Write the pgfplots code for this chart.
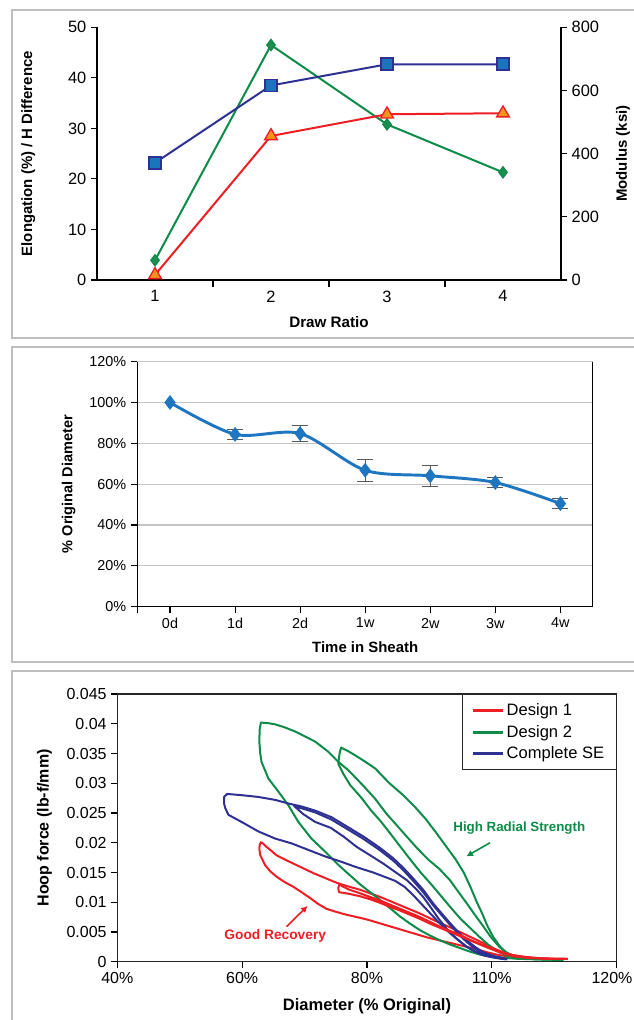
\documentclass[border=0pt]{standalone}
\usepackage{fontspec}
\setmainfont{Liberation Sans}
\usepackage{pgfplots}
\pgfplotsset{compat=1.18}
\usetikzlibrary{arrows.meta}

\definecolor{navyline}{RGB}{46,49,146}
\definecolor{sqfill}{RGB}{27,117,188}
\definecolor{grline}{RGB}{12,140,72}
\definecolor{grfill}{RGB}{30,140,80}
\definecolor{rdline}{RGB}{237,30,36}
\definecolor{trifill}{RGB}{247,148,29}
\definecolor{ptblue}{RGB}{30,118,192}
\definecolor{framec}{RGB}{190,190,190}
\definecolor{gridc}{RGB}{195,195,200}

\pgfplotsset{/pgf/number format/assume math mode=true}

\begin{document}
\begin{tikzpicture}
\useasboundingbox (0,0) rectangle (475.5pt,-765pt);

% panel frames
\begin{scope}
  \clip (0,0) rectangle (475.5pt,-765pt);
  \draw[framec, line width=1.1pt] (9pt,-7.5pt) rectangle (490pt,-253.5pt);
  \draw[framec, line width=1.1pt] (9pt,-260.3pt) rectangle (490pt,-496.5pt);
  \draw[framec, line width=1.1pt] (9pt,-503.3pt) rectangle (490pt,-790pt);
\end{scope}

% ---- Panel 1: draw ratio -------------------------------------------
\begin{axis}[
  at={(72.75pt,-210pt)}, anchor=south west,
  scale only axis, width=348pt, height=189.5pt,
  xmin=0.5, xmax=4.5, ymin=0, ymax=50,
  axis x line*=bottom, axis y line*=left,
  axis line style={line width=0.8pt},
  xtick={1,2,3,4}, minor xtick={1.5,2.5,3.5},
  ytick={0,10,...,50},
  tick align=outside, major tick length=4.5pt, minor tick length=5pt,
  major x tick style={draw=none},
  tick style={black, line width=0.8pt},
  tick label style={font=\fontsize{12.3}{14}\selectfont},
  every axis y label/.style={at={(rel axis cs:0,0.5)}, xshift=-51.5pt, rotate=90, anchor=center,
    font=\bfseries\fontsize{11.2}{13}\selectfont},
  every axis x label/.style={at={(rel axis cs:0.5,0)}, yshift=-31.3pt, anchor=center,
    font=\bfseries\fontsize{11.4}{13}\selectfont},
  ylabel={Elongation (\%) / H Difference},
  xlabel={Draw Ratio},
]
  \addplot[grline, line width=1.5pt, mark=diamond*, mark size=4.3pt,
    mark options={fill=grfill, draw=grline, line width=0.8pt}]
    coordinates {(1,3.9) (2,46.5) (3,30.8) (4,21.3)};
  \addplot[rdline, line width=1.5pt, mark=triangle*, mark size=5.5pt,
    mark options={fill=trifill, draw=rdline, line width=1pt}]
    coordinates {(1,1.0) (2,28.5) (3,32.8) (4,33.0)};
\end{axis}

\begin{axis}[
  at={(72.75pt,-210pt)}, anchor=south west,
  scale only axis, width=348pt, height=189.5pt,
  xmin=0.5, xmax=4.5, ymin=0, ymax=800,
  axis x line=none, axis y line*=right,
  axis line style={line width=0.8pt},
  ytick={0,200,...,800},
  tick align=outside, major tick length=4.5pt,
  tick style={black, line width=0.8pt},
  tick label style={font=\fontsize{12.3}{14}\selectfont},
  every axis y label/.style={at={(rel axis cs:1,0.5)}, xshift=46.5pt, rotate=90, anchor=center,
    font=\bfseries\fontsize{11.2}{13}\selectfont},
  ylabel={Modulus (ksi)},
]
  \addplot[navyline, line width=1.5pt, mark=square*, mark size=4.5pt,
    mark options={fill=sqfill, draw=navyline, line width=1.2pt}]
    coordinates {(1,371) (2,616) (3,683) (4,683)};
\end{axis}

% ---- Panel 2: time in sheath ---------------------------------------
\begin{axis}[
  at={(103.1pt,-455pt)}, anchor=south west,
  scale only axis, width=341.6pt, height=183.75pt,
  xmin=-0.5, xmax=6.5, ymin=0, ymax=120,
  axis x line*=bottom, axis y line*=left,
  axis line style={line width=0.9pt},
  xtick={0,...,6}, xticklabels={0d,1d,2d,1w,2w,3w,4w},
  extra x ticks={-0.5}, extra x tick labels={},
  ytick={0,20,...,120},
  yticklabels={0\%,20\%,40\%,60\%,80\%,100\%,120\%},
  ymajorgrids, grid style={gridc, line width=0.8pt},
  tick align=outside, major tick length=5pt,
  tick style={black, line width=0.8pt},
  tick label style={font=\fontsize{10.8}{12}\selectfont},
  every axis y label/.style={at={(rel axis cs:0,0.5)}, xshift=-51.6pt, rotate=90, anchor=center,
    font=\bfseries\fontsize{10.9}{13}\selectfont},
  every axis x label/.style={at={(rel axis cs:0.5,0)}, yshift=-30pt, anchor=center,
    font=\bfseries\fontsize{11.2}{13}\selectfont},
  ylabel={\% Original Diameter},
  xlabel={Time in Sheath},
]
  \draw[black, line width=0.9pt] (rel axis cs:1,0) -- (rel axis cs:1,1);
  \addplot[only marks, mark=none,
    error bars/.cd, y dir=both, y explicit,
    error bar style={draw=black!65, line width=0.7pt},
    error mark options={rotate=90, mark size=6pt, draw=black!65, line width=0.7pt}]
    coordinates {(1,84.4) +- (0,2.6) (2,84.8) +- (0,4.0) (3,66.8) +- (0,5.5)
                 (4,64.1) +- (0,5.0) (5,60.8) +- (0,2.5) (6,50.5) +- (0,2.6)};
  \addplot[ptblue, line width=2.2pt, smooth, mark=diamond*, mark size=5.2pt,
    mark options={fill=ptblue, draw=ptblue, line width=0.5pt}]
    coordinates {(0,100) (1,84.4) (2,84.8) (3,66.8) (4,64.1) (5,60.8) (6,50.5)};
\end{axis}

% ---- Panel 3: hoop force -------------------------------------------
\begin{axis}[
  at={(88pt,-721.3pt)}, anchor=south west,
  scale only axis, width=374.5pt, height=200.8pt,
  xmin=40, xmax=120, ymin=0, ymax=0.045,
  xtick={40,60,80,100}, xticklabels={40\%,60\%,80\%,110\%},
  extra x ticks={120}, extra x tick labels={120\%},
  extra x tick style={xticklabel style={xshift=-3.5pt}},
  ytick={0,0.005,0.01,0.015,0.02,0.025,0.03,0.035,0.04,0.045},
  yticklabels={0,0.005,0.01,0.015,0.02,0.025,0.03,0.035,0.04,0.045},
  scaled y ticks=false,
  xtick pos=bottom, ytick pos=left,
  axis line style={line width=0.8pt, black!85},
  tick align=outside, major tick length=4.5pt,
  tick style={black, line width=0.8pt},
  tick label style={font=\fontsize{12}{14}\selectfont},
  every axis y label/.style={at={(rel axis cs:0,0.5)}, xshift=-54.6pt, rotate=90, anchor=center,
    font=\bfseries\fontsize{12}{14}\selectfont},
  every axis x label/.style={at={(rel axis cs:0.5,0)}, yshift=-33.7pt, anchor=center,
    font=\bfseries\fontsize{12.4}{14}\selectfont},
  ylabel={Hoop force (lb-f/mm)},
  xlabel={Diameter (\% Original)},
  legend style={at={(1,1)}, anchor=north east, draw=black!85, line width=0.8pt,
    font=\fontsize{12.4}{14}\selectfont, inner xsep=7pt, inner ysep=5pt,
    row sep=1.5pt, cells={anchor=west}},
  legend image code/.code={\draw[#1, line width=2.2pt] (0pt,0pt) -- (22pt,0pt);},
  every axis plot/.append style={line width=1.5pt, line join=round},
]
  % Design 1, first cycle
  \addplot[rdline] coordinates {
    (112.2,0.0005) (110,0.0005) (107.7,0.0006) (105.5,0.0008) (103.4,0.0011)
    (102,0.0015) (100.8,0.0020) (99.5,0.0027) (98.1,0.0034) (96.5,0.0042)
    (94.9,0.0050) (93.3,0.0058) (91.7,0.0065) (90.1,0.0073) (88.5,0.0081)
    (86.9,0.0088) (85.3,0.0095) (83.7,0.0102) (82.1,0.0109) (80.5,0.0115)
    (78.9,0.0121) (77.2,0.0126) (75.6,0.0131) (74.6,0.0135) (73.0,0.0142)
    (71.4,0.0149) (69.8,0.0157) (68.2,0.0165) (66.8,0.0172) (65.5,0.0179)
    (64.5,0.0188) (63.9,0.0193) (63.3,0.0199) (63.0,0.0201) (62.8,0.0196)
    (62.75,0.0190) (62.9,0.0179) (63.7,0.0162) (64.5,0.0152) (65.5,0.0143)
    (66.8,0.0134) (68.2,0.0126) (69.5,0.0117) (70.9,0.0107) (72.2,0.0097)
    (73.5,0.0089) (75.0,0.0084) (76.7,0.0079) (78.4,0.0075) (80.0,0.0071)
    (81.6,0.0066) (83.2,0.0061) (84.8,0.0056) (86.4,0.0051) (88.0,0.0046)
    (89.6,0.0041) (91.2,0.0037) (92.8,0.0033) (94.4,0.0029) (96.0,0.0025)
    (97.6,0.0021) (99.2,0.0016) (100.8,0.0012) (102.5,0.0009) (104.5,0.0007)
    (107,0.0005) (112.2,0.0005)};
  \addlegendentry{Design 1}
  % Design 2, first cycle
  \addplot[grline] coordinates {
    (111.5,0.0003) (108,0.0004) (105,0.0006) (102.8,0.0012) (101.2,0.0025)
    (99.8,0.0042) (98.6,0.0060) (97.2,0.0080) (96.0,0.0098) (94.6,0.0118)
    (93.3,0.0137) (91.6,0.0156) (89.9,0.0171) (88.1,0.0190) (86.4,0.0210)
    (84.8,0.0229) (83.1,0.0249) (81.3,0.0274) (79.3,0.0297) (77.0,0.0322)
    (75.4,0.0336) (73.8,0.0353) (71.7,0.0370) (70.0,0.0379) (68.5,0.0387)
    (66.8,0.0394) (65.3,0.0399) (64.2,0.0401) (63.0,0.0402) (62.8,0.0390)
    (62.75,0.0370) (62.9,0.0350) (63.1,0.0336) (64.2,0.0308) (65.8,0.0286)
    (67.4,0.0263) (69.0,0.0235) (71.1,0.0207) (73.3,0.0185) (75.6,0.0161)
    (77.3,0.0145) (78.9,0.0130) (80.5,0.0117) (82.1,0.0104) (83.7,0.0090)
    (85.3,0.0076) (86.9,0.0064) (88.5,0.0053) (90.1,0.0044) (91.7,0.0036)
    (93.3,0.0029) (94.9,0.0023) (96.5,0.0017) (98.1,0.0012) (99.7,0.0009)
    (101.3,0.0007) (104,0.0005) (107,0.0004) (111.5,0.0003)};
  \addlegendentry{Design 2}
  % Complete SE, first cycle
  \addplot[navyline] coordinates {
    (102.5,0.0004) (101.9,0.0006) (100.2,0.0010) (98.6,0.0016) (97.3,0.0025)
    (96.0,0.0036) (94.6,0.0050) (93.3,0.0065) (91.9,0.0082) (90.6,0.0098)
    (89.0,0.0121) (87.4,0.0140) (85.8,0.0158) (84.2,0.0174) (82.0,0.0192)
    (79.5,0.0210) (77.0,0.0226) (74.3,0.0243) (71.7,0.0254) (69.5,0.0261)
    (67.4,0.0266) (65.3,0.0272) (62.6,0.0277) (59.9,0.0280) (57.6,0.0282)
    (57.1,0.0277) (57.1,0.0266) (57.3,0.0258) (57.8,0.0247) (59.9,0.0235)
    (62.6,0.0219) (65.3,0.0207) (67.9,0.0199) (70.6,0.0188) (73.3,0.0177)
    (75.9,0.0168) (78.0,0.0160) (81.0,0.0150) (84.5,0.0136) (86.0,0.0126)
    (87.4,0.0112) (89.0,0.0094) (90.6,0.0076) (92.0,0.0061) (93.3,0.0048)
    (94.7,0.0036) (96.0,0.0025) (97.3,0.0017) (98.6,0.0011) (100.0,0.0008)
    (101.3,0.0006) (102.5,0.0004)};
  \addlegendentry{Complete SE}
  % second cycles
  \addplot[grline, forget plot] coordinates {
    (111,0.0003) (107,0.0004) (104,0.0008) (102.2,0.0016) (101.2,0.0027)
    (100.2,0.0042) (99.3,0.0060) (98.5,0.0080) (97.6,0.0100) (96.6,0.0125)
    (95.5,0.0150) (94.2,0.0172) (92.6,0.0195) (91.0,0.0218) (89.4,0.0240)
    (87.7,0.0260) (85.8,0.0280) (83.6,0.0300) (81.3,0.0325) (79.6,0.0337)
    (78.1,0.0347) (76.8,0.0355) (75.84,0.0360) (75.6,0.0350) (75.4,0.0333)
    (76.2,0.0316) (77.3,0.0297) (79.15,0.0275) (80.6,0.0255) (82.2,0.0236)
    (83.7,0.0216) (85.3,0.0194) (87.0,0.0171) (88.6,0.0150) (90.3,0.0130)
    (91.9,0.0110) (93.5,0.0090) (95.0,0.0072) (96.6,0.0056) (98.1,0.0041)
    (99.5,0.0028) (100.8,0.0018) (102.3,0.0011) (104.5,0.0006) (108,0.0004)
    (111,0.0003)};
  \addplot[navyline, forget plot] coordinates {
    (102.2,0.0004) (100.2,0.0008) (98.6,0.0014) (97.3,0.0022) (96.0,0.0033)
    (94.6,0.0047) (93.3,0.0062) (91.9,0.0079) (90.6,0.0095) (89.0,0.0117)
    (87.4,0.0136) (85.8,0.0154) (84.2,0.0170) (82.0,0.0188) (79.5,0.0206)
    (77.0,0.0222) (74.3,0.0239) (71.7,0.0251) (69.5,0.0258) (68.3,0.0262)
    (69.8,0.0248) (71.7,0.0235) (74.2,0.0225) (76.3,0.0210) (78.35,0.0193)
    (80.5,0.0179) (82.6,0.0165) (84.5,0.0151) (86.4,0.0137) (87.8,0.0123)
    (89.0,0.0109) (90.3,0.0090) (91.5,0.0072) (92.8,0.0055) (94.2,0.0040)
    (95.7,0.0027) (97.3,0.0017) (99.0,0.0010) (100.8,0.0006) (102.2,0.0004)};
  \addplot[rdline, forget plot] coordinates {
    (112,0.0005) (108,0.0005) (105,0.0008) (103,0.0012) (101.5,0.0017)
    (100,0.0023) (98.1,0.0030) (96.5,0.0037) (94.9,0.0045) (93.3,0.0052)
    (91.7,0.0059) (90.1,0.0067) (88.5,0.0075) (86.9,0.0082) (85.3,0.0089)
    (83.7,0.0096) (82.1,0.0103) (80.5,0.0109) (78.9,0.0115) (77.2,0.0121)
    (76.0,0.0127) (75.6,0.0131) (75.4,0.0124) (75.5,0.0117) (77.2,0.0114)
    (78.9,0.0110) (80.5,0.0105) (82.1,0.0099) (83.7,0.0092) (85.3,0.0086)
    (86.9,0.0079) (88.5,0.0072) (90.1,0.0064) (91.7,0.0057) (93.3,0.0050)
    (94.9,0.0043) (96.5,0.0036) (98.1,0.0029) (99.7,0.0022) (101.5,0.0015)
    (103.5,0.0009) (106,0.0006) (112,0.0005)};

  % annotations
  \node[rdline, font=\bfseries\fontsize{10.3}{12}\selectfont] at (axis cs:65.3,0.0044) {Good Recovery};
  \draw[rdline, line width=1.2pt, -{Latex[length=5pt,width=5pt]}] (axis cs:67.1,0.0059) -- (axis cs:70.5,0.0094);
  \node[grline, font=\bfseries\fontsize{10}{12}\selectfont] at (axis cs:104.4,0.0224) {High Radial Strength};
  \draw[grline, line width=1.2pt, -{Latex[length=5pt,width=5pt]}] (axis cs:99.7,0.0200) -- (axis cs:95.9,0.0177);
\end{axis}

\end{tikzpicture}
\end{document}
